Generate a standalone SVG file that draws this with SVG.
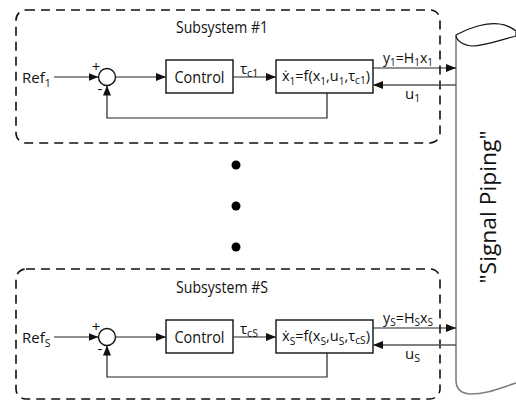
<svg xmlns="http://www.w3.org/2000/svg" width="516" height="400" viewBox="0 0 516 400">
  <style>
    text { font-family: "Open Sans", "Liberation Sans", sans-serif; fill: #111; }
    .lbl { font-size: 16.5px; }
    .ref { font-size: 15px; }
    .eq { font-size: 15px; }
    .sm { font-size: 15px; }
    .sub { font-size: 10.5px; }
    .frame { fill: none; stroke: #111; stroke-width: 1.6; stroke-dasharray: 9 6; }
    .block { fill: #fff; stroke: #111; stroke-width: 1.4; }
    .wire { fill: none; stroke: #222; stroke-width: 1.2; }
    .wire-in { fill: none; stroke: #555; stroke-width: 1.4; }
    .pipe { fill: none; stroke: #7f7f7f; stroke-width: 1.6; }
    .pipe-top { fill: #fff; stroke: #111; stroke-width: 1.2; }
  </style>
  <defs>
    <marker id="arrow" viewBox="0 0 10 8" refX="10" refY="4" markerWidth="10" markerHeight="8" markerUnits="userSpaceOnUse" orient="auto">
      <path d="M0,0 L10,4 L0,8 z" fill="#111"/>
    </marker>
  </defs>

  <!-- signal pipe on the right -->
  <g id="pipe">
    <path class="pipe" d="M456,36 L456,380 Q456,393 470,394 C488,394 500,388 516,383"/>
    <path class="pipe-top" d="M456,35 C470,27 488,22 500,24 C508,25 512,28 516,31 L516,36 C500,40 485,46 472,46 C462,45 456,40 456,35 z"/>
    <text transform="translate(496,207) rotate(-90)" text-anchor="middle" font-size="22" textLength="153" lengthAdjust="spacingAndGlyphs">"Signal Piping"</text>
  </g>

  <!-- subsystem frames -->
  <g id="subsystem1">
    <rect class="frame" x="16" y="10" width="424" height="133" rx="10"/>
    <text class="lbl" x="222" y="33" text-anchor="middle" textLength="92" lengthAdjust="spacingAndGlyphs">Subsystem #1</text>
  </g>
  <g id="subsystemS">
    <rect class="frame" x="16" y="269" width="424" height="130" rx="10"/>
    <text class="lbl" x="222" y="293" text-anchor="middle" textLength="92" lengthAdjust="spacingAndGlyphs">Subsystem #S</text>
  </g>

  <!-- ellipsis between subsystems -->
  <g id="dots" fill="#000">
    <circle cx="236" cy="165" r="4.5"/>
    <circle cx="236" cy="206" r="4.5"/>
    <circle cx="236" cy="247" r="4.5"/>
  </g>

  <!-- subsystem 1 blocks -->
  <g id="ref1">
    <text class="ref" x="22" y="83">Ref<tspan class="sub" dy="4">1</tspan></text>
  </g>
  <g id="sum1">
    <circle class="block" cx="107" cy="77" r="8.5"/>
    <text x="96" y="72" font-size="15" text-anchor="middle">+</text>
    <text x="100" y="94" font-size="15" text-anchor="middle">-</text>
  </g>
  <g id="control1">
    <rect class="block" x="166" y="60" width="67" height="33"/>
    <text class="lbl" x="199.5" y="83" text-anchor="middle" textLength="50" lengthAdjust="spacingAndGlyphs">Control</text>
  </g>
  <g id="plant1">
    <rect class="block" x="276" y="60" width="97" height="33"/>
    <text class="eq" x="282" y="81" textLength="88" lengthAdjust="spacingAndGlyphs">ẋ<tspan class="sub" dy="4">1</tspan><tspan dy="-4">=f(x</tspan><tspan class="sub" dy="4">1</tspan><tspan dy="-4">,u</tspan><tspan class="sub" dy="4">1</tspan><tspan dy="-4">,τ</tspan><tspan class="sub" dy="3">c1</tspan><tspan dy="-3">)</tspan></text>
  </g>

  <!-- subsystem S blocks -->
  <g id="refS">
    <text class="ref" x="22" y="343">Ref<tspan class="sub" dy="4">S</tspan></text>
  </g>
  <g id="sumS">
    <circle class="block" cx="107" cy="337" r="8.5"/>
    <text x="96" y="332" font-size="15" text-anchor="middle">+</text>
    <text x="100" y="354" font-size="15" text-anchor="middle">-</text>
  </g>
  <g id="controlS">
    <rect class="block" x="166" y="320" width="67" height="33"/>
    <text class="lbl" x="199.5" y="343" text-anchor="middle" textLength="50" lengthAdjust="spacingAndGlyphs">Control</text>
  </g>
  <g id="plantS">
    <rect class="block" x="276" y="320" width="97" height="33"/>
    <text class="eq" x="282" y="341" textLength="88" lengthAdjust="spacingAndGlyphs">ẋ<tspan class="sub" dy="4">S</tspan><tspan dy="-4">=f(x</tspan><tspan class="sub" dy="4">S</tspan><tspan dy="-4">,u</tspan><tspan class="sub" dy="4">S</tspan><tspan dy="-4">,τ</tspan><tspan class="sub" dy="3">cS</tspan><tspan dy="-3">)</tspan></text>
  </g>

  <!-- connectors -->
  <g id="connectors">
    <!-- subsystem 1 -->
    <line class="wire" x1="54" y1="77" x2="98.5" y2="77" marker-end="url(#arrow)"/>
    <line class="wire" x1="115.5" y1="77" x2="166" y2="77" marker-end="url(#arrow)"/>
    <line class="wire" x1="233" y1="77" x2="276" y2="77" marker-end="url(#arrow)"/>
    <line class="wire" x1="373" y1="68" x2="456" y2="68" marker-end="url(#arrow)"/>
    <line class="wire-in" x1="456" y1="85" x2="373" y2="85" marker-end="url(#arrow)"/>
    <polyline class="wire" points="327,93 327,118 107,118 107,85.5" marker-end="url(#arrow)"/>
    <text class="sm" x="240" y="74">τ<tspan class="sub" dy="3">c1</tspan></text>
    <text class="sm" x="408" y="63" text-anchor="middle" textLength="50" lengthAdjust="spacingAndGlyphs">y<tspan class="sub" dy="3">1</tspan><tspan dy="-3">=H</tspan><tspan class="sub" dy="3">1</tspan><tspan dy="-3">x</tspan><tspan class="sub" dy="3">1</tspan></text>
    <text class="sm" x="405" y="99">u<tspan class="sub" dy="3">1</tspan></text>

    <!-- subsystem S -->
    <line class="wire" x1="54" y1="337" x2="98.5" y2="337" marker-end="url(#arrow)"/>
    <line class="wire" x1="115.5" y1="337" x2="166" y2="337" marker-end="url(#arrow)"/>
    <line class="wire" x1="233" y1="337" x2="276" y2="337" marker-end="url(#arrow)"/>
    <line class="wire" x1="373" y1="328" x2="456" y2="328" marker-end="url(#arrow)"/>
    <line class="wire-in" x1="456" y1="345" x2="373" y2="345" marker-end="url(#arrow)"/>
    <polyline class="wire" points="327,353 327,377 107,377 107,345.5" marker-end="url(#arrow)"/>
    <text class="sm" x="240" y="334">τ<tspan class="sub" dy="3">cS</tspan></text>
    <text class="sm" x="408" y="323" text-anchor="middle" textLength="50" lengthAdjust="spacingAndGlyphs">y<tspan class="sub" dy="3">S</tspan><tspan dy="-3">=H</tspan><tspan class="sub" dy="3">S</tspan><tspan dy="-3">x</tspan><tspan class="sub" dy="3">S</tspan></text>
    <text class="sm" x="405" y="359">u<tspan class="sub" dy="3">S</tspan></text>
  </g>
</svg>
